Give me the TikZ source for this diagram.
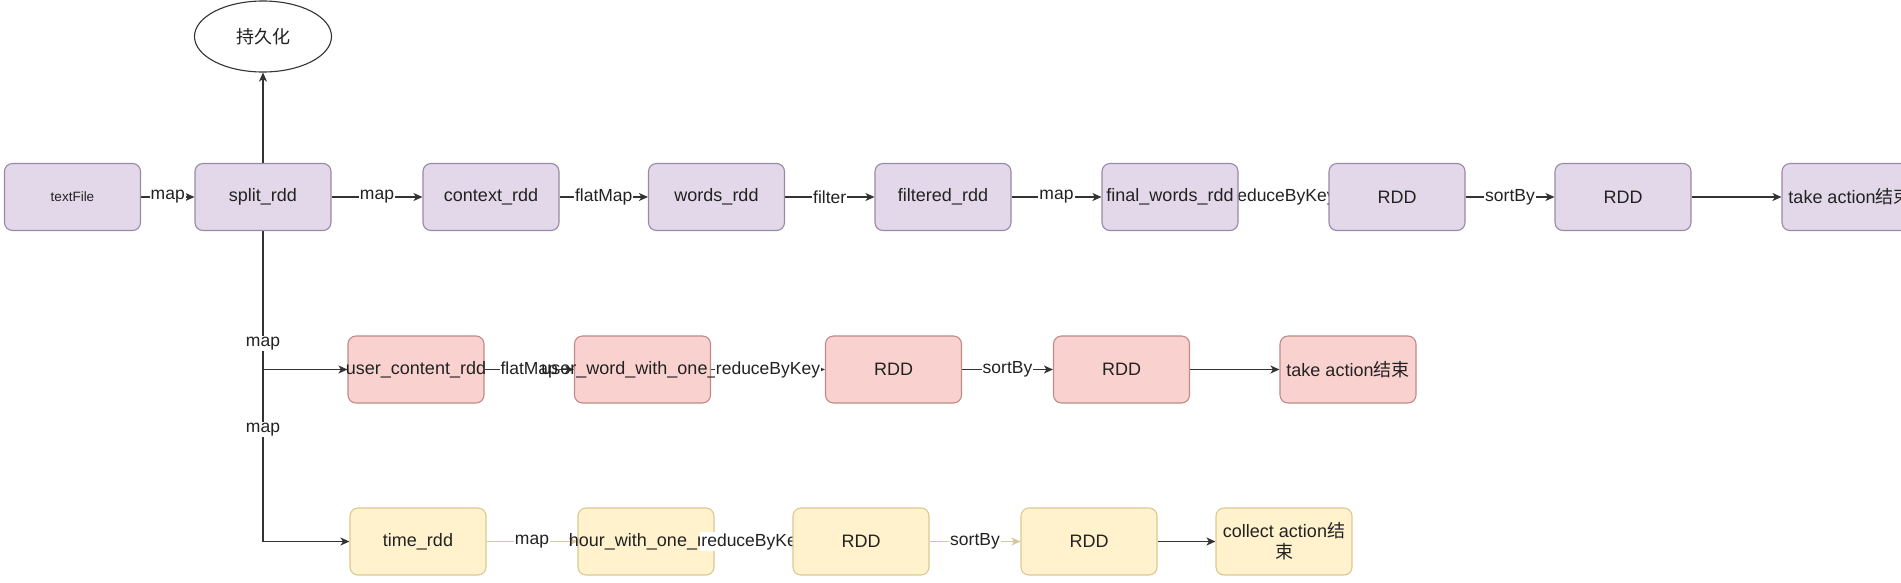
\documentclass[tikz,border=0pt]{standalone}
\usepackage{fontspec}
\setmainfont{Liberation Sans}
\newfontfamily\cjk{Noto Sans CJK SC}
\usetikzlibrary{shapes.geometric,arrows.meta}
\pgfdeclarelayer{bg}
\pgfdeclarelayer{edges}
\pgfdeclarelayer{labels}
\pgfdeclarelayer{over}
\pgfdeclarelayer{top}
\pgfsetlayers{bg,edges,labels,main,over,top}
\definecolor{pfill}{HTML}{E3D8E9}
\definecolor{pdraw}{HTML}{9A88A6}
\definecolor{rfill}{HTML}{F9D2D0}
\definecolor{rdraw}{HTML}{C08A87}
\definecolor{yfill}{HTML}{FFF2CC}
\definecolor{ydraw}{HTML}{DCC890}
\definecolor{edgec}{HTML}{333333}
\definecolor{yedge}{HTML}{D6C79E}
\definecolor{txt}{HTML}{222222}
\newcommand\tx[1]{\makebox[0pt]{#1}}
\newcommand\myedge[5]{%
  \begin{pgfonlayer}{edges}\draw[#1] (#2) -- (#3);\end{pgfonlayer}%
  \begin{pgfonlayer}{#5}\path (#2.east) -- (#3.west) node[elabel,midway]{#4};\end{pgfonlayer}}
\tikzset{
  box/.style={rectangle, rounded corners=8pt, minimum width=136pt, minimum height=67pt,
    inner sep=0pt, line width=1.1pt, font=\fontsize{18}{21}\selectfont, text=txt},
  pbox/.style={box, fill=pfill, draw=pdraw},
  rbox/.style={box, fill=rfill, draw=rdraw},
  ybox/.style={box, fill=yfill, draw=ydraw},
  arr/.style={draw=edgec, line width=1.3pt, -{Stealth[length=9pt,width=8pt,inset=2.5pt]}},
  yarr/.style={arr, draw=yedge},
  elabel/.style={fill=white, inner sep=1pt, font=\fontsize{17.5}{19}\selectfont, text=txt},
}
\begin{document}
\begin{tikzpicture}[x=1pt,y=-1pt]
\useasboundingbox (0,0) rectangle (1901,582);
\begin{pgfonlayer}{bg}\fill[white] (0,0) rectangle (1901,582);\end{pgfonlayer}
% ellipse
\node[ellipse, draw=edgec, fill=white, line width=1.1pt, minimum width=137pt, minimum height=71pt,
  inner sep=0pt, font=\fontsize{18}{21}\selectfont, text=txt] (persist) at (263,36.5) {\tx{\cjk 持久化}};
% row 1
\node[pbox, font=\fontsize{13.5}{16}\selectfont] (tf) at (72.5,197) {\tx{textFile}};
\node[pbox] (split) at (263,197) {\tx{split\_rdd}};
\node[pbox] (ctx) at (491,197) {\tx{context\_rdd}};
\node[pbox] (words) at (716.5,197) {\tx{words\_rdd}};
\node[pbox] (filt) at (943,197) {\tx{filtered\_rdd}};
\node[pbox] (final) at (1170,197) {\tx{final\_words\_rdd}};
\node[pbox] (ra) at (1397,197) {\tx{RDD}};
\node[pbox] (rb) at (1623,197) {\tx{RDD}};
\node[pbox] (take1) at (1850,197) {\tx{take action{\cjk 结束}}};
% row 2
\node[rbox] (uc) at (416,369.5) {\tx{user\_content\_rdd}};
\node[rbox] (uw) at (642.5,369.5) {\tx{user\_word\_with\_one\_rdd}};
\node[rbox] (rc) at (893.5,369.5) {\tx{RDD}};
\node[rbox] (rd) at (1121.5,369.5) {\tx{RDD}};
\node[rbox] (take2) at (1348,369.5) {\tx{take action{\cjk 结束}}};
% row 3
\node[ybox] (time) at (418,541.5) {\tx{time\_rdd}};
\node[ybox] (hour) at (646,541.5) {\tx{hour\_with\_one\_rdd}};
\begin{pgfonlayer}{top}
\node[ybox] (re) at (861,541.5) {\tx{RDD}};
\end{pgfonlayer}
\node[ybox] (rf) at (1089,541.5) {\tx{RDD}};
\node[ybox, align=center] (coll) at (1284,541.5) {collect action{\cjk 结}\\{\cjk 束}};
% edges row 1
\myedge{arr}{tf}{split}{map}{labels}
\myedge{arr}{split}{ctx}{map}{labels}
\myedge{arr}{ctx}{words}{flatMap}{labels}
\myedge{arr}{words}{filt}{filter}{labels}
\myedge{arr}{filt}{final}{map}{labels}
\myedge{arr}{final}{ra}{reduceByKey}{labels}
\myedge{arr}{ra}{rb}{sortBy}{labels}
\begin{pgfonlayer}{edges}
\draw[arr] (rb) -- (take1);
\draw[arr] (split) -- (persist);
\draw[arr] (split.south) |- (uc.west);
\draw[arr] (split.south) |- (time.west);
\end{pgfonlayer}
\begin{pgfonlayer}{labels}
\path (split.south) -- (split.south |- uc.west) node[elabel, pos=0.81] {map};
\path (split.south) -- (split.south |- time.west) node[elabel, pos=0.639] {map};
\end{pgfonlayer}
% edges row 2
\myedge{arr}{uc}{uw}{flatMap}{labels}
\myedge{arr}{uw}{rc}{reduceByKey}{over}
\myedge{arr}{rc}{rd}{sortBy}{labels}
\begin{pgfonlayer}{edges}
\draw[arr] (rd) -- (take2);
\end{pgfonlayer}
% edges row 3
\myedge{yarr}{time}{hour}{map}{labels}
\myedge{yarr}{hour}{re}{reduceByKey}{over}
\myedge{yarr}{re}{rf}{sortBy}{labels}
\begin{pgfonlayer}{edges}
\draw[arr] (rf) -- (coll);
\end{pgfonlayer}
\end{tikzpicture}
\end{document}
